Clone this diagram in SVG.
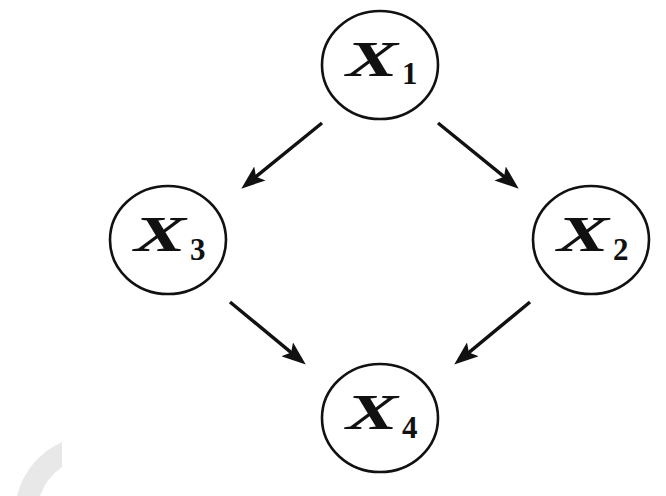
<svg xmlns="http://www.w3.org/2000/svg" width="666" height="496" viewBox="0 0 666 496">
<style>
.node{fill:#fff;stroke:#111;stroke-width:2.6}
.x{font-family:"Liberation Serif",serif;font-weight:bold;font-style:italic;font-size:50px;fill:#111}
.sub{font-family:"Liberation Serif",serif;font-weight:bold;font-size:31px;fill:#111}
.edge{stroke:#111;stroke-width:3.4;fill:none;marker-end:url(#ah)}
</style>
<defs>
<marker id="ah" viewBox="0 0 24 18" refX="13" refY="9" markerWidth="24" markerHeight="18" markerUnits="userSpaceOnUse" orient="auto">
<path d="M0,0 L24,9 L0,18 L5,9 Z" fill="#111"/>
</marker>
</defs>
<rect width="666" height="496" fill="#fff"/>
<path d="M62,442 A80,80 0 0 0 17,496 L40,496 A58,58 0 0 1 62,467 Z" fill="#e8e8e8"/>
<g id="edges">
<line class="edge" x1="322" y1="123" x2="249.8" y2="181.7"/>
<line class="edge" x1="438" y1="123" x2="510.2" y2="181.7"/>
<line class="edge" x1="230" y1="302" x2="297.3" y2="357.6"/>
<line class="edge" x1="530" y1="302" x2="462.7" y2="357.6"/>
</g>
<g id="X1">
<ellipse class="node" cx="380" cy="65" rx="58" ry="54"/>
<text class="x" x="346" y="76" textLength="52" lengthAdjust="spacingAndGlyphs">X</text>
<text class="sub" x="402" y="84">1</text>
</g>
<g id="X3">
<ellipse class="node" cx="168" cy="240" rx="58" ry="54"/>
<text class="x" x="134" y="251" textLength="52" lengthAdjust="spacingAndGlyphs">X</text>
<text class="sub" x="190" y="260">3</text>
</g>
<g id="X2">
<ellipse class="node" cx="591" cy="240" rx="58" ry="54"/>
<text class="x" x="557" y="251" textLength="52" lengthAdjust="spacingAndGlyphs">X</text>
<text class="sub" x="613" y="260">2</text>
</g>
<g id="X4">
<ellipse class="node" cx="380" cy="418" rx="58" ry="54"/>
<text class="x" x="346" y="429" textLength="52" lengthAdjust="spacingAndGlyphs">X</text>
<text class="sub" x="402" y="438">4</text>
</g>
</svg>
